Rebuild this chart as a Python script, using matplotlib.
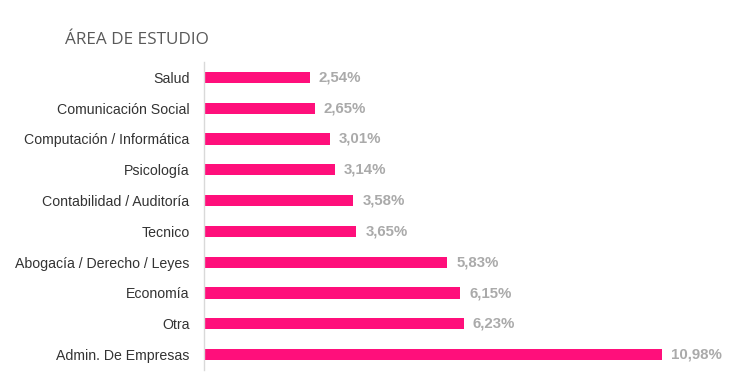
import matplotlib
matplotlib.use("Agg")
import matplotlib.pyplot as plt

categories = ["Salud", "Comunicación Social", "Computación / Informática", "Psicología",
              "Contabilidad / Auditoría", "Tecnico", "Abogacía / Derecho / Leyes",
              "Economía", "Otra", "Admin. De Empresas"]
values = [2.54, 2.65, 3.01, 3.14, 3.58, 3.65, 5.83, 6.15, 6.23, 10.98]
value_labels = ["2,54%", "2,65%", "3,01%", "3,14%", "3,58%", "3,65%",
                "5,83%", "6,15%", "6,23%", "10,98%"]

pink = "#ff0f7b"

fig = plt.figure(figsize=(7.3, 3.89), dpi=100)
ax = fig.add_axes([204 / 730, 1 - 370 / 389, (720 - 204) / 730, (370 - 62) / 389])

ypos = list(range(len(categories)))
ax.barh(ypos, values, height=0.36, color=pink)
ax.set_ylim(len(categories) - 0.5, -0.5)
ax.set_xlim(0, 516 / 41.7)

for y, v, lab in zip(ypos, values, value_labels):
    ax.annotate(lab, (v, y), xytext=(6.5, 0), textcoords="offset points",
                va="center", ha="left", fontsize=10.8, fontweight="bold",
                color="#aaaaaa", family="Liberation Sans")

ax.set_yticks(ypos)
ax.set_yticklabels(categories, fontsize=10.2, color="#333333", family="Liberation Sans")
ax.tick_params(axis="y", length=0, pad=10.5)
ax.set_xticks([])
for s in ["top", "right", "bottom"]:
    ax.spines[s].set_visible(False)
ax.spines["left"].set_color("#d9d9d9")
ax.spines["left"].set_linewidth(1)

fig.text(65 / 730, 1 - 40 / 389, "ÁREA DE ESTUDIO", fontsize=12.3, color="#595959",
         family="Open Sans", va="center", ha="left")

fig.savefig("out.png", dpi=100)
